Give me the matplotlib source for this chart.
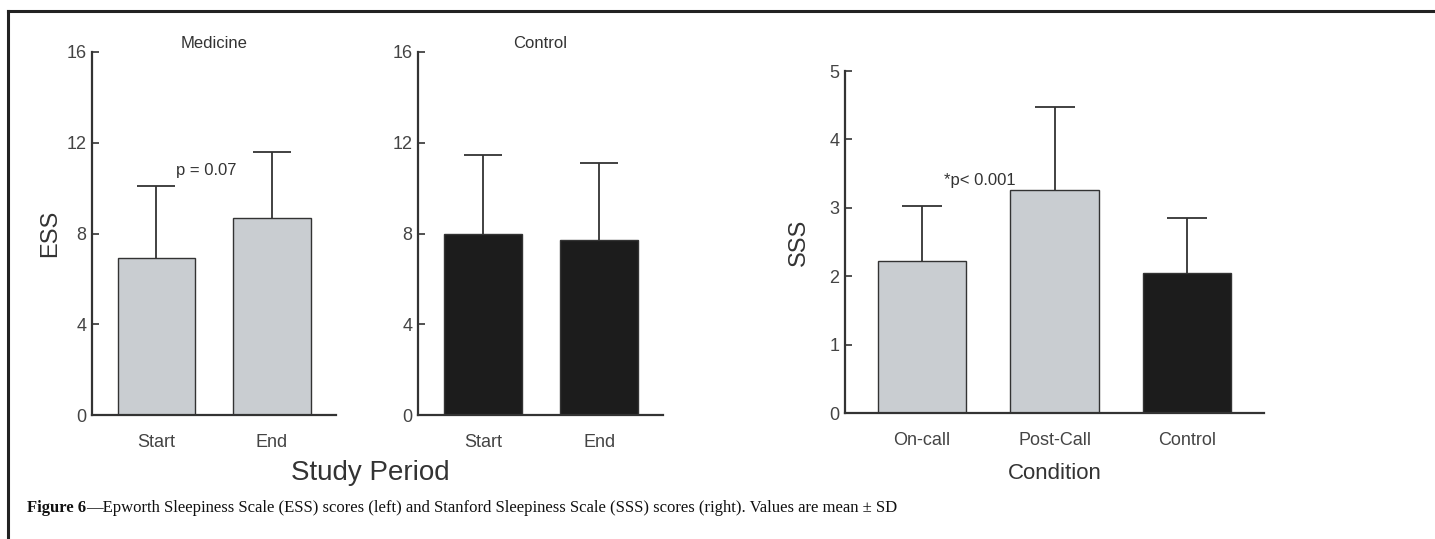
import numpy as np
import matplotlib
matplotlib.use('Agg')
import matplotlib.pyplot as plt
from matplotlib.lines import Line2D

# data
ess_periods = ['Start', 'End']
ess_medicine_mean = [6.9, 8.7]
ess_medicine_sd = [3.2, 2.9]
ess_control_mean = [8.0, 7.7]
ess_control_sd = [3.45, 3.4]

sss_conditions = ['On-call', 'Post-Call', 'Control']
sss_mean = [2.22, 3.26, 2.05]
sss_sd = [0.80, 1.22, 0.80]

ess_ticks = [0, 4, 8, 12, 16]
sss_ticks = [0, 1, 2, 3, 4, 5]

W, H = 1435, 539
grey = '#c9cdd1'
black = '#1c1c1c'
dark = '#333333'
txt = '#444444'

plt.rcParams['font.family'] = ['Liberation Sans', 'DejaVu Sans']

fig = plt.figure(figsize=(W / 100, H / 100), dpi=100)


def box(l, r, t, b):
    # pixel box -> figure fraction
    return [l / W, 1 - b / H, (r - l) / W, (b - t) / H]


def style(ax, ticks, ylim):
    for s in ['top', 'right']:
        ax.spines[s].set_visible(False)
    for s in ['left', 'bottom']:
        ax.spines[s].set_color(dark)
        ax.spines[s].set_linewidth(1.6)
    ax.set_ylim(ylim)
    ax.set_yticks(ticks)
    ax.tick_params(axis='y', direction='in', length=5, width=1.2, color=dark,
                   labelsize=13, labelcolor=txt, pad=4)
    ax.tick_params(axis='x', length=0, labelsize=13, labelcolor=txt, pad=14)


def bars(ax, labels, mean, sd, colors, width, cap):
    x = np.arange(len(labels))
    ax.bar(x, mean, width=width, color=colors, edgecolor=dark, linewidth=1.0, zorder=2)
    # symmetric bars drawn behind, so only the upper half shows
    ax.errorbar(x, mean, yerr=sd, fmt='none', ecolor=dark,
                elinewidth=1.3, capsize=cap, capthick=1.3, zorder=1)
    ax.set_xticks(x)
    ax.set_xticklabels(labels)


# Medicine
ax1 = fig.add_axes(box(92, 336, 52, 415))
bars(ax1, ess_periods, ess_medicine_mean, ess_medicine_sd, [grey, grey], 0.667, 13.7)
ax1.set_xlim(-0.558, 1.554)
style(ax1, ess_ticks, (0, 16))
ax1.set_ylabel('ESS', fontsize=17, color=dark, labelpad=4)
ax1.set_title('Medicine', fontsize=12, color=dark, pad=3)
ax1.text(0.43, 10.45, 'p = 0.07', fontsize=12, color=dark, ha='center', va='bottom')

# Control
ax2 = fig.add_axes(box(418, 663, 52, 415))
bars(ax2, ess_periods, ess_control_mean, ess_control_sd, [black, black], 0.667, 13.7)
ax2.set_xlim(-0.56, 1.55)
style(ax2, ess_ticks, (0, 16))
ax2.set_title('Control', fontsize=12, color=dark, pad=3)

fig.text(370 / W, 1 - 473 / H, 'Study Period', fontsize=20, color=dark,
         ha='center', va='center')

# SSS
ax3 = fig.add_axes(box(845, 1264, 71, 413))
bars(ax3, sss_conditions, sss_mean, sss_sd, [grey, grey, black], 0.664, 14.4)
ax3.set_xlim(-0.58, 2.58)
style(ax3, sss_ticks, (0, 5))
ax3.set_ylabel('SSS', fontsize=17, color=dark, labelpad=14)
ax3.set_xlabel('Condition', fontsize=16, color=dark, labelpad=10)
ax3.text(0.17, 3.40, '*p< 0.001', fontsize=12, color=dark, ha='left', va='center')

# caption
t1 = fig.text(27 / W, 1 - 508 / H, 'Figure 6', fontsize=12, family=['Liberation Serif'],
              fontweight='bold', va='center', color='#111111')
fig.canvas.draw()
bb = t1.get_window_extent()
fig.text((27 + bb.width) / W, 1 - 508 / H,
         '\u2014Epworth Sleepiness Scale (ESS) scores (left) and Stanford Sleepiness Scale (SSS) scores (right). Values are mean \u00b1 SD',
         fontsize=12, family=['Liberation Serif'], va='center', color='#111111')

# frame
fig.add_artist(Line2D([7.5 / W, 7.5 / W], [0, 1 - 11 / H], color='#222222', lw=2.2))
fig.add_artist(Line2D([7.5 / W, 1], [1 - 11 / H, 1 - 11 / H], color='#222222', lw=2.2))

fig.savefig('out.png', dpi=100)
